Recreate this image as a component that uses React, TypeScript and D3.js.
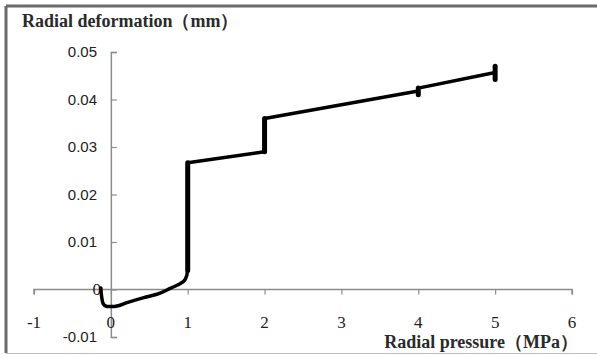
import { useEffect, useRef } from "react"
import * as d3 from "d3"

// radial pressure (MPa) vs radial deformation (mm)
const pressure = [
  -0.13, -0.12, -0.1, -0.05, 0.05, 0.2, 0.43, 0.6, 0.78, 0.9, 0.97, 1.0,
  1.0, 2.0, 2.0, 4.0, 4.0, 4.0, 5.0, 5.0, 5.0,
]
const deformation = [
  0.0003, -0.0015, -0.003, -0.0036, -0.0036, -0.0028, -0.0017, -0.001, 0.0003, 0.0012, 0.0022, 0.004,
  0.0267, 0.0290, 0.0360, 0.0418, 0.0410, 0.0424, 0.0457, 0.0442, 0.0470,
]
// last point of the trace sits at the top of the step at 5 MPa
const traceEnd = 19

const xTicks = [-1, 0, 1, 2, 3, 4, 5, 6]
const yTicks = [-0.01, 0, 0.01, 0.02, 0.03, 0.04, 0.05]
const yTickLabels = ["-0.01", "0", "0.01", "0.02", "0.03", "0.04", "0.05"]

const SERIF = "'Liberation Serif', 'DejaVu Serif', 'Times New Roman', Times, serif"
const SANS = "'Liberation Sans', Arial, sans-serif"

const App = () => {
  const svgRef = useRef<SVGSVGElement>(null)

  useEffect(() => {
    const svg = d3.select(svgRef.current)
    svg.selectAll("*").remove()

    const W = 597
    const H = 357

    svg.attr("width", W).attr("height", H)

    // frame
    svg.append("rect").attr("width", W).attr("height", H).attr("fill", "#fff")
    svg.append("line").attr("x1", 6).attr("x2", W).attr("y1", 6).attr("y2", 6)
      .attr("stroke", "#6b6b6b").attr("stroke-width", 3)
    svg.append("line").attr("x1", 6).attr("x2", 6).attr("y1", 6).attr("y2", 353)
      .attr("stroke", "#6b6b6b").attr("stroke-width", 3)
    svg.append("line").attr("x1", 6).attr("x2", W).attr("y1", 353.5).attr("y2", 353.5)
      .attr("stroke", "#bbb").attr("stroke-width", 1)

    const x = d3.scaleLinear().domain([-1, 6]).range([34, 572])
    const y = d3.scaleLinear().domain([-0.01, 0.05]).range([337, 52])

    const axisColor = "#8c8c8c"

    // x axis through y = 0
    const xAxis = svg.append("g").attr("transform", `translate(0,${y(0)})`)
      .call(d3.axisBottom(x).tickValues(xTicks).tickSize(5).tickFormat(() => ""))
    xAxis.select(".domain").attr("stroke", axisColor).attr("stroke-width", 1.5)
      .attr("d", `M${x(-1)},5V0H${x(6)}V5`)
    xAxis.selectAll(".tick line").attr("stroke", axisColor).attr("stroke-width", 1.2)

    // y axis through x = 0, ticks pointing right
    const yAxis = svg.append("g").attr("transform", `translate(${x(0)},0)`)
      .call(d3.axisRight(y).tickValues(yTicks).tickSize(6).tickFormat(() => ""))
    yAxis.select(".domain").attr("stroke", axisColor).attr("stroke-width", 1.5)
    yAxis.selectAll(".tick line").attr("stroke", axisColor).attr("stroke-width", 1.2)

    // x tick labels
    svg.append("g").selectAll("text").data(xTicks).enter().append("text")
      .attr("x", (d) => x(d))
      .attr("y", 328)
      .attr("text-anchor", "middle")
      .style("font-family", SERIF)
      .style("font-size", "17px")
      .attr("fill", "#222")
      .text((d) => String(d))

    // y tick labels
    svg.append("g").selectAll("text").data(yTicks).enter().append("text")
      .attr("x", (d) => (d === 0 ? 101 : 97))
      .attr("y", (d) => y(d) + 5)
      .attr("text-anchor", "end")
      .style("font-family", (d) => (d === 0 ? SERIF : SANS))
      .style("font-size", (d) => (d === 0 ? "17px" : "15px"))
      .attr("fill", "#222")
      .text((d, i) => yTickLabels[i])

    // the measured trace
    const pts = pressure.slice(0, traceEnd + 1).map((p, i) => [x(p), y(deformation[i])] as [number, number])
    svg.append("path")
      .attr("d", d3.line().curve(d3.curveMonotoneY)(pts.slice(0, 12)) ?? "")
      .attr("fill", "none")
      .attr("stroke", "#000")
      .attr("stroke-width", 3.5)
      .attr("stroke-linecap", "round")
    svg.append("path")
      .attr("d", d3.line()(pts.slice(11)))
      .attr("fill", "none")
      .attr("stroke", "#000")
      .attr("stroke-width", 3.5)
      .attr("stroke-linejoin", "round")
      .attr("stroke-linecap", "round")

    // thicker scatter of readings on the vertical steps
    const steps: [number, number, number][] = [
      [pressure[11], deformation[11], deformation[12]],
      [pressure[13], deformation[13], deformation[14]],
      [pressure[16], deformation[16], deformation[17]],
      [pressure[19], deformation[19], deformation[20]],
    ]
    svg.append("g").selectAll("line").data(steps).enter().append("line")
      .attr("x1", (d) => x(d[0]))
      .attr("x2", (d) => x(d[0]))
      .attr("y1", (d) => y(d[1]))
      .attr("y2", (d) => y(d[2]))
      .attr("stroke", "#000")
      .attr("stroke-width", 5)
      .attr("stroke-linecap", "round")

    // axis titles
    svg.append("text")
      .attr("x", 22)
      .attr("y", 27)
      .style("font-family", SERIF)
      .style("font-weight", "bold")
      .style("font-size", "18px")
      .attr("fill", "#2a2a2a")
      .text("Radial deformation（mm）")

    svg.append("text")
      .attr("x", 578)
      .attr("y", 348)
      .attr("text-anchor", "end")
      .style("font-family", SERIF)
      .style("font-weight", "bold")
      .style("font-size", "18px")
      .attr("fill", "#2a2a2a")
      .text("Radial pressure（MPa）")
  }, [])

  return <svg ref={svgRef} style={{ position: "absolute", left: 0, top: 0 }}></svg>
}

export default App
